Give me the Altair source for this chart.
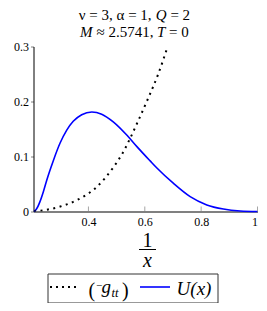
import altair as alt
import pandas as pd

# ---- data ----
u_x = [0.207, 0.215, 0.228, 0.240, 0.252, 0.275, 0.299, 0.323, 0.346, 0.376, 0.412,
       0.447, 0.488, 0.536, 0.572, 0.619, 0.643, 0.702, 0.761, 0.820, 0.879, 0.939, 1.0]
u_y = [0.0, 0.004, 0.018, 0.036, 0.057, 0.092, 0.124, 0.148, 0.164, 0.176, 0.181,
       0.177, 0.163, 0.139, 0.118, 0.092, 0.079, 0.051, 0.027, 0.012, 0.0045, 0.001, 0.0]

g_x = [0.207, 0.250, 0.300, 0.364, 0.430, 0.488, 0.520, 0.548, 0.574, 0.612, 0.647, 0.678]
g_y = [0.0, 0.003, 0.009, 0.022, 0.045, 0.080, 0.105, 0.133, 0.162, 0.206, 0.249, 0.295]

x_ticks = [0.4, 0.6, 0.8, 1.0]
y_ticks = [0.0, 0.1, 0.2, 0.3]

# title pieces (italic symbols set apart)
title1 = ["ν = 3, α = 1,", "Q", "= 2"]
title2 = ["M", "≈ 2.5741,", "T", "= 0"]

W, H = 224, 165
SERIF = "Times New Roman"

u_df = pd.DataFrame({"x": u_x, "y": u_y})
g_df = pd.DataFrame({"x": g_x, "y": g_y})
tick_df = pd.DataFrame({"x": x_ticks})
one = pd.DataFrame({"a": [0]})

xs = alt.Scale(domain=[0.205, 1.0], nice=False, zero=False)
ys = alt.Scale(domain=[0, 0.3], nice=False)

xaxis = alt.Axis(values=x_ticks, title=None, grid=False, tickSize=0,
                 labelExpr="datum.value == 1 ? '1' : format(datum.value, '.1f')",
                 labelFont=SERIF, labelFontSize=12, labelColor="black", labelPadding=5,
                 domainColor="#808080", domainWidth=2)
yaxis = alt.Axis(values=y_ticks, title=None, grid=False, tickSize=3, tickColor="#808080",
                 labelExpr="datum.value == 0 ? '0' : format(datum.value, '.1f')",
                 labelFont=SERIF, labelFontSize=12, labelColor="black", labelPadding=2,
                 domainColor="black", domainWidth=1)

u_line = alt.Chart(u_df).mark_line(color="#0000FF", strokeWidth=1.6, interpolate="monotone").encode(
    x=alt.X("x:Q", scale=xs, axis=xaxis),
    y=alt.Y("y:Q", scale=ys, axis=yaxis),
)
g_line = alt.Chart(g_df).mark_line(color="black", strokeWidth=2, strokeDash=[2, 4.5],
                                   interpolate="monotone", clip=True).encode(
    x=alt.X("x:Q", scale=xs),
    y=alt.Y("y:Q", scale=ys),
)
ticks = alt.Chart(tick_df).mark_tick(orient="vertical", size=5, thickness=1, color="#808080").encode(
    x=alt.X("x:Q", scale=xs),
    y=alt.value(H - 2.5),
)


def txt(s, x, y, size, italic=False, align="center", baseline="alphabetic"):
    return alt.Chart(one).mark_text(text=s, font=SERIF, fontSize=size,
                                    fontStyle="italic" if italic else "normal",
                                    align=align, baseline=baseline, color="black").encode(
        x=alt.value(x), y=alt.value(y))


def rule(x1, x2, y, **kw):
    return alt.Chart(one).mark_rule(**kw).encode(x=alt.value(x1), x2=alt.value(x2), y=alt.value(y))


TS = 15
layers = [
    u_line, g_line, ticks,
    # title line 1
    txt(title1[0], 45.3, -26.5, TS, align="left"),
    txt(title1[1], 122.3, -26.5, TS, italic=True, align="left"),
    txt(title1[2], 136.9, -26.5, TS, align="left"),
    # title line 2
    txt(title2[0], 46.6, -9.5, TS, italic=True, align="left"),
    txt(title2[1], 62.9, -9.5, TS, align="left"),
    txt(title2[2], 123.5, -9.5, TS, italic=True, align="left"),
    txt(title2[3], 135.6, -9.5, TS, align="left"),
    # x-axis title 1/x
    txt("1", 114, 200, 20),
    rule(105.5, 122.5, 203, color="black", strokeWidth=1),
    txt("x", 114, 220, 20, italic=True),
    # legend box
    alt.Chart(one).mark_rect(fill=None, stroke="#333333", strokeWidth=1).encode(
        x=alt.value(14.5), x2=alt.value(184.5), y=alt.value(227.5), y2=alt.value(256.5)),
    rule(16.5, 46.5, 240.5, color="black", strokeWidth=2, strokeDash=[2, 4]),
    txt("(", 55, 250, 20, align="left"),
    txt("−", 62.5, 242, 11, align="left"),
    txt("g", 68, 246, 19, italic=True, align="left"),
    txt("tt", 78, 250.5, 12.5, italic=True, align="left"),
    txt(")", 88.5, 250, 20, align="left"),
    rule(106.5, 136.5, 240.5, color="#0000FF", strokeWidth=1.6),
    txt("U(x)", 160.5, 248.5, 19, italic=True),
]

chart = alt.layer(*layers).properties(
    width=W, height=H,
    autosize=alt.AutoSizeParams(type="none"),
    padding={"left": 25.5, "top": 38.5, "right": 1.5, "bottom": 91.5},
).configure_view(stroke=None)

chart.save("out.html", embed_options={"renderer": "svg", "actions": False})
